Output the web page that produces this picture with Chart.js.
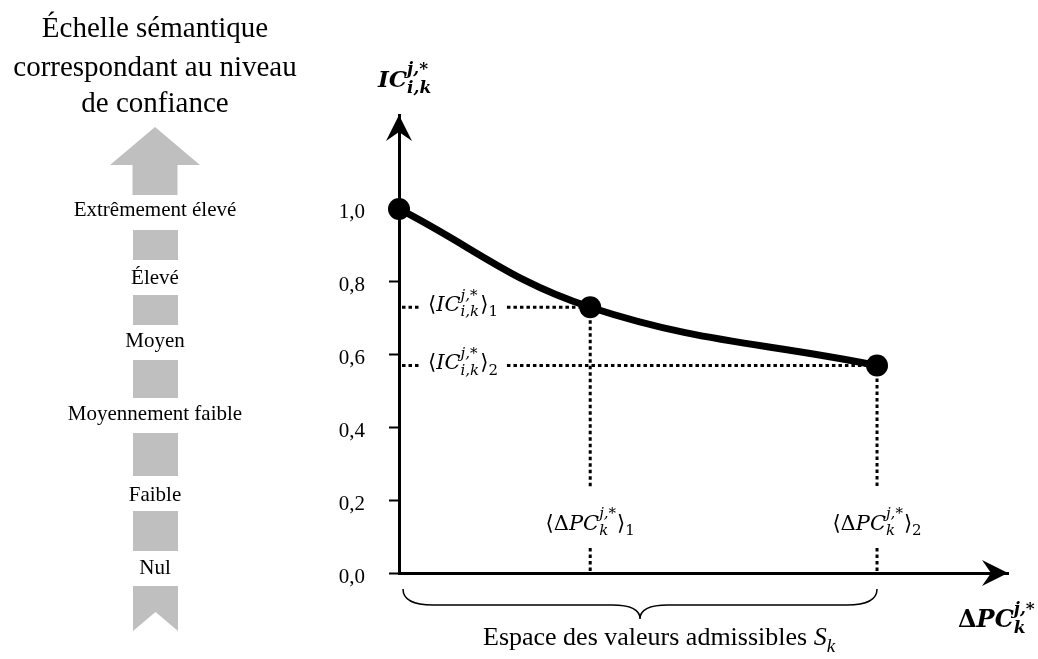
<!DOCTYPE html>
<html>
<head>
<meta charset="utf-8">
<script src="https://cdn.jsdelivr.net/npm/chart.js@4.4.1/dist/chart.umd.min.js"></script>
<style>
  html, body { margin: 0; padding: 0; background: #fff; }
  #wrap { position: relative; width: 1038px; height: 659px; overflow: hidden; }
  #chart { position: absolute; left: 0; top: 0; }
  .lbl { position: absolute; font-family: "Liberation Serif", serif; color: #000; white-space: nowrap; transform: translateX(-50%); }
  .shape { position: absolute; background: #bfbfbf; }
</style>
</head>
<body>
<div id="wrap">
  <canvas id="chart" width="1038" height="659"></canvas>
  <div id="panel"></div>
</div>
<script>
// semantic scale on the left
var panelTitle = ['Échelle sémantique', 'correspondant au niveau', 'de confiance'];
var levels = ['Extrêmement élevé', 'Élevé', 'Moyen', 'Moyennement faible', 'Faible', 'Nul'];

// curve IC(ΔPC)
var xVals = [0, 0.4, 1.0];
var yVals = [1.0, 0.73, 0.57];
var yTicks = [0, 0.2, 0.4, 0.6, 0.8, 1.0];
var xMax = 1.274;
var yMax = 1.258;

// labels of the marked points
var icLabels = [
  { pre: '⟨', it: 'IC', sup: 'j,*', sub: 'i,k', post: '⟩', idx: '1' },
  { pre: '⟨', it: 'IC', sup: 'j,*', sub: 'i,k', post: '⟩', idx: '2' }
];
var dpcLabels = [
  { pre: '⟨', up: 'Δ', it: 'PC', sup: 'j,*', sub: 'k', post: '⟩', idx: '1' },
  { pre: '⟨', up: 'Δ', it: 'PC', sup: 'j,*', sub: 'k', post: '⟩', idx: '2' }
];
var yTitle = { it: 'IC', sup: 'j,*', sub: 'i,k' };
var xTitle = { up: 'Δ', it: 'PC', sup: 'j,*', sub: 'k' };
var braceText = { pre: 'Espace des valeurs admissibles ', it: 'S', sub: 'k' };

// ---- left panel (layout only) ----
var panel = document.getElementById('panel');
var cx = 155;
function addText(txt, baseline, size) {
  var d = document.createElement('div');
  d.className = 'lbl';
  d.textContent = txt;
  d.style.left = cx + 'px';
  d.style.fontSize = size + 'px';
  d.style.lineHeight = size + 'px';
  d.style.top = (baseline - 0.8375 * size) + 'px';
  panel.appendChild(d);
}
function addShape(x, y, w, h, clip) {
  var d = document.createElement('div');
  d.className = 'shape';
  d.style.left = x + 'px'; d.style.top = y + 'px';
  d.style.width = w + 'px'; d.style.height = h + 'px';
  if (clip) d.style.clipPath = clip;
  panel.appendChild(d);
}
var titleBase = [37, 76, 112];
panelTitle.forEach(function(t, i) { addText(t, titleBase[i], 29); });
var levelBase = [217, 285, 348, 421, 502, 575];
levels.forEach(function(t, i) { addText(t, levelBase[i], 21); });
var blocks = [[230, 260], [295, 325], [360, 398], [433, 476], [511, 551]];
blocks.forEach(function(b) { addShape(133, b[0], 45, b[1] - b[0]); });
addShape(110, 127, 90, 68, 'polygon(50% 0, 100% 56%, 75% 56%, 75% 100%, 25% 100%, 25% 56%, 0 56%)');
addShape(133, 586, 45, 45, 'polygon(0 0, 100% 0, 100% 100%, 50% 58%, 0 100%)');

// ---- math-like text on canvas ----
function buildMath(ctx, t, size, bold, fam) {
  var b = bold ? 'bold ' : '';
  fam = 'px ' + (fam || '"DejaVu Serif", serif');
  var big = size + fam, small = Math.round(size * 0.72) + fam;
  var runs = [], x = 0;
  function add(text, font, dy) {
    if (!text) return 0;
    ctx.font = font;
    var w = ctx.measureText(text).width;
    runs.push({ text: text, font: font, x: x, dy: dy });
    return w;
  }
  x += add(t.pre, b + big, 0);
  x += add(t.up, b + big, 0);
  x += add(t.it, b + 'italic ' + big, 0);
  var ws = add(t.sup, b + 'italic ' + small, -0.55 * size);
  var wb = add(t.sub, b + 'italic ' + small, 0.25 * size);
  if (ws || wb) x += Math.max(ws, wb) + 1;
  x += add(t.post, b + big, 0);
  x += add(t.idx, b + small, 0.25 * size);
  return { runs: runs, width: x };
}
function drawMath(ctx, m, x, y) {
  ctx.save();
  ctx.fillStyle = '#000';
  ctx.textAlign = 'left';
  ctx.textBaseline = 'alphabetic';
  m.runs.forEach(function(r) {
    ctx.font = r.font;
    ctx.fillText(r.text, x + r.x, y + r.dy);
  });
  ctx.restore();
}
function dotted(ctx, x1, y1, x2, y2) {
  ctx.beginPath();
  ctx.moveTo(x1, y1);
  ctx.lineTo(x2, y2);
  ctx.stroke();
}
function arrowHead(ctx, x, y, rot) {
  ctx.save();
  ctx.translate(x, y);
  ctx.rotate(rot);
  ctx.beginPath();
  ctx.moveTo(0, 0);
  ctx.lineTo(13, 26);
  ctx.lineTo(0, 17);
  ctx.lineTo(-13, 26);
  ctx.closePath();
  ctx.fillStyle = '#000';
  ctx.fill();
  ctx.restore();
}

var overlay = {
  id: 'overlay',
  beforeDatasetsDraw: function(chart) {
    var ctx = chart.ctx, a = chart.chartArea;
    var xs = chart.scales.x, ys = chart.scales.y;
    ctx.save();
    ctx.strokeStyle = '#000';
    ctx.lineWidth = 3;
    ctx.setLineDash([3.5, 3]);
    for (var i = 1; i < xVals.length; i++) {
      var px = xs.getPixelForValue(xVals[i]);
      var py = ys.getPixelForValue(yVals[i]);
      // horizontal guide with its label
      var m = buildMath(ctx, icLabels[i - 1], 21, false);
      var lx = a.left + 29;
      dotted(ctx, a.left + 3, py, lx - 9, py);
      dotted(ctx, lx + m.width + 9, py, px, py);
      drawMath(ctx, m, lx, py + 4);
      // vertical guide with its label
      var m2 = buildMath(ctx, dpcLabels[i - 1], 21, false);
      dotted(ctx, px, py, px, a.bottom - 85);
      dotted(ctx, px, a.bottom - 25, px, a.bottom);
      drawMath(ctx, m2, px - m2.width / 2, a.bottom - 43);
    }
    ctx.restore();
  },
  afterDraw: function(chart) {
    var ctx = chart.ctx, a = chart.chartArea;
    var xs = chart.scales.x;
    arrowHead(ctx, a.left, a.top, 0);
    arrowHead(ctx, a.right, a.bottom, Math.PI / 2);
    // axis titles
    drawMath(ctx, buildMath(ctx, yTitle, 23, true), a.left - 21, a.top - 28);
    drawMath(ctx, buildMath(ctx, xTitle, 24, true), a.right - 50, a.bottom + 54);
    // brace under the admissible range
    var l = xs.getPixelForValue(xVals[0]) + 4;
    var r = xs.getPixelForValue(xVals[xVals.length - 1]);
    var m = (l + r) / 2, t = a.bottom + 16, h = a.bottom + 32, tip = a.bottom + 46;
    ctx.save();
    ctx.strokeStyle = '#000';
    ctx.lineWidth = 1.5;
    ctx.beginPath();
    ctx.moveTo(l, t);
    ctx.quadraticCurveTo(l, h, l + 30, h);
    ctx.lineTo(m - 28, h);
    ctx.quadraticCurveTo(m, h, m, tip);
    ctx.quadraticCurveTo(m, h, m + 28, h);
    ctx.lineTo(r - 30, h);
    ctx.quadraticCurveTo(r, h, r, t);
    ctx.stroke();
    ctx.restore();
    var bt = buildMath(ctx, braceText, 26, false, '"Liberation Serif", serif');
    drawMath(ctx, bt, 483, a.bottom + 72);
  }
};

new Chart(document.getElementById('chart'), {
  type: 'line',
  data: {
    datasets: [{
      data: xVals.map(function(x, i) { return { x: x, y: yVals[i] }; }),
      borderColor: '#000',
      backgroundColor: '#000',
      borderWidth: 7,
      pointRadius: 11,
      pointHoverRadius: 11,
      pointBorderWidth: 0,
      tension: 0.4,
      clip: false
    }]
  },
  options: {
    responsive: false,
    animation: false,
    events: [],
    layout: { padding: { left: 329, top: 115, right: 30, bottom: 0 } },
    plugins: { legend: { display: false }, tooltip: { enabled: false } },
    scales: {
      x: {
        type: 'linear', min: 0, max: xMax,
        grid: { display: false },
        ticks: { display: false },
        border: { color: '#000', width: 3 },
        afterFit: function(s) { s.height = 86; }
      },
      y: {
        type: 'linear', min: 0, max: yMax,
        afterBuildTicks: function(s) { s.ticks = yTicks.map(function(v) { return { value: v }; }); },
        grid: { drawOnChartArea: false, tickLength: 10, tickWidth: 2, tickColor: '#000' },
        border: { color: '#000', width: 3 },
        ticks: {
          padding: 24, color: '#000', labelOffset: 4,
          font: { family: '"Liberation Serif"', size: 21 },
          callback: function(v) { return v.toFixed(1).replace('.', ','); }
        },
        afterFit: function(s) { s.width = 70; }
      }
    }
  },
  plugins: [overlay]
});
</script>
</body>
</html>
